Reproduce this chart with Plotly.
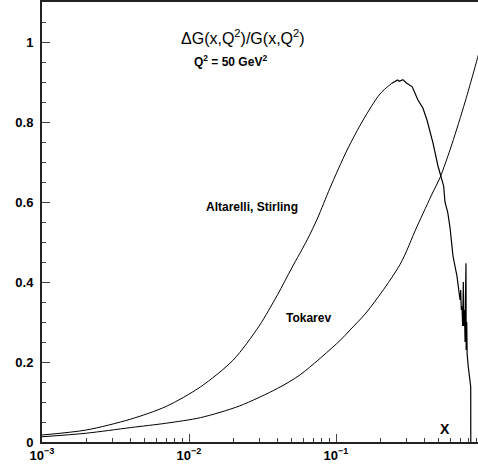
import plotly.graph_objects as go

# Altarelli, Stirling curve (smooth part followed by the noisy high-x tail)
as_x = [0.001, 0.002, 0.004, 0.007, 0.012, 0.020, 0.030, 0.040, 0.050, 0.064,
        0.075, 0.091, 0.119, 0.153, 0.199, 0.240, 0.262, 0.270, 0.285, 0.300,
        0.330, 0.361, 0.390, 0.416, 0.457, 0.494, 0.518, 0.540, 0.551, 0.575,
        0.597, 0.625, 0.665, 0.698, 0.705, 0.712, 0.720, 0.727, 0.735, 0.740,
        0.748, 0.755, 0.760, 0.764, 0.766, 0.768, 0.775, 0.780, 0.794, 0.816,
        0.825, 0.826]
as_y = [0.0175, 0.030, 0.057, 0.089, 0.138, 0.205, 0.290, 0.368, 0.435, 0.507,
        0.560, 0.635, 0.730, 0.805, 0.870, 0.897, 0.905, 0.902, 0.906, 0.898,
        0.888, 0.855, 0.835, 0.805, 0.747, 0.690, 0.660, 0.640, 0.600, 0.575,
        0.535, 0.465, 0.415, 0.355, 0.380, 0.330, 0.340, 0.290, 0.400, 0.290,
        0.330, 0.250, 0.360, 0.240, 0.447, 0.230, 0.300, 0.220, 0.188, 0.150,
        0.138, 0.0]
AS_SMOOTH_END = 16  # points before the jittery region

# Tokarev curve
tk_x = [0.001, 0.002, 0.004, 0.007, 0.012, 0.022, 0.040, 0.057, 0.106,
        0.1245, 0.162, 0.272, 0.355, 0.457, 0.509, 0.615, 0.755, 0.91, 0.93]
tk_y = [0.013, 0.022, 0.036, 0.047, 0.061, 0.090, 0.134, 0.168, 0.253,
        0.280, 0.325, 0.443, 0.538, 0.625, 0.660, 0.745, 0.850, 0.955, 0.968]

x_tickvals = [0.001, 0.01, 0.1]
x_ticktext = ["10<sup>\u22123</sup>", "10<sup>\u22122</sup>", "10<sup>\u22121</sup>"]
x_minor = [m * d for d in (0.001, 0.01, 0.1) for m in range(2, 10)]
y_tickvals = [0, 0.2, 0.4, 0.6, 0.8, 1.0]
y_ticktext = ["0", "0.2", "0.4", "0.6", "0.8", "1"]

FONT = "Liberation Sans, Arial, sans-serif"
W, H = 478, 472
ML, MT, MB = 42, 2, 30
PW = W - ML

fig = go.Figure()
fig.add_trace(go.Scatter(x=as_x[:AS_SMOOTH_END], y=as_y[:AS_SMOOTH_END], mode="lines",
                         line=dict(color="black", width=1, shape="spline", smoothing=0.8),
                         showlegend=False))
fig.add_trace(go.Scatter(x=as_x[AS_SMOOTH_END - 1:], y=as_y[AS_SMOOTH_END - 1:], mode="lines",
                         line=dict(color="black", width=1.2), showlegend=False))
fig.add_trace(go.Scatter(x=tk_x, y=tk_y, mode="lines",
                         line=dict(color="black", width=1, shape="spline", smoothing=0.8),
                         showlegend=False))

fig.update_layout(
    width=W, height=H,
    margin=dict(l=ML, r=0, t=MT, b=MB),
    paper_bgcolor="white", plot_bgcolor="white",
    font=dict(family=FONT, color="black"),
    xaxis=dict(type="log", range=[-3, -0.034], showgrid=False, zeroline=False,
               showline=True, linecolor="#222", linewidth=2, mirror=True,
               ticks="inside", ticklen=8, tickwidth=1, tickcolor="#444",
               tickvals=x_tickvals, ticktext=x_ticktext,
               tickfont=dict(size=13, family=FONT, weight="bold"),
               minor=dict(tickvals=x_minor, ticks="inside", ticklen=4,
                          tickcolor="#444", showgrid=False)),
    yaxis=dict(range=[0, 1.1], showgrid=False, zeroline=False,
               showline=True, linecolor="#222", linewidth=2,
               ticks="inside", ticklen=8, tickwidth=1, tickcolor="#444",
               tickvals=y_tickvals, ticktext=y_ticktext, ticklabelstandoff=4,
               tickfont=dict(size=13, family=FONT, weight="bold"),
               minor=dict(dtick=0.05, ticks="inside", ticklen=4,
                          tickcolor="#444", showgrid=False)),
)


def px(xp, yp):
    return (xp - ML) / PW, (H - yp) / H


def note(xp, yp, text, size, bold=True, family=FONT):
    ax, ay = px(xp, yp)
    f = dict(size=size, family=family)
    if bold:
        f["weight"] = "bold"
    fig.add_annotation(x=ax, y=ay, xref="paper", yref="paper", text=text,
                       showarrow=False, font=f, xanchor="center", yanchor="middle")


note(243, 38, "\u0394G(x,Q<sup>2</sup>)/G(x,Q<sup>2</sup>)", 16, bold=False)
note(230, 63, "Q<sup>2</sup> = 50 GeV<sup>2</sup>", 12)
note(252, 220, "Altarelli, Stirling", 12)
note(308, 339, "Tokarev", 12)
note(445, 458, "X", 14)

fig.write_html("out.html", config={"displayModeBar": False},
               post_script="document.body.style.margin='0';document.body.style.padding='0';")
